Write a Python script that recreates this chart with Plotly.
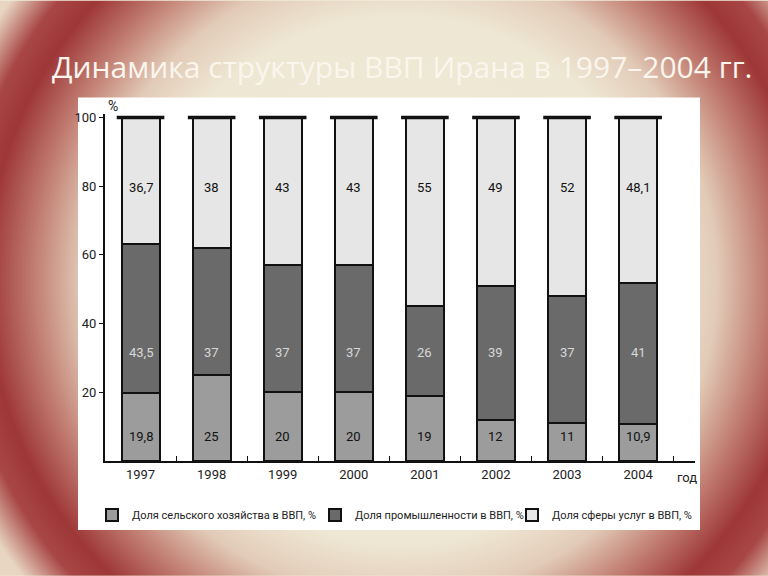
import base64
import plotly.graph_objects as go

years = ["1997", "1998", "1999", "2000", "2001", "2002", "2003", "2004"]
agriculture = [19.8, 25, 20, 20, 19, 12, 11, 10.9]
industry = [43.5, 37, 37, 37, 26, 39, 37, 41]
services = [36.7, 38, 43, 43, 55, 49, 52, 48.1]
y_ticks = [20, 40, 60, 80, 100]
series_names = [
    "Доля сельского хозяйства в ВВП, %",
    "Доля промышленности в ВВП, %",
    "Доля сферы услуг в ВВП, %",
]
title_text = "Динамика структуры ВВП Ирана в 1997–2004 гг."

NARROW = "Roboto, Liberation Sans, sans-serif"
colors = ["#9c9c9c", "#6a6a6a", "#e6e6e6"]

W, H = 768, 576
ML, MR, MT, MB = 105, 73, 113.6, 115
pw = W - ML - MR
ph = H - MT - MB


def fmt(v):
    s = ("%g" % v)
    return s.replace(".", ",")


def px_x(x):
    return (x - ML) / pw


def px_y(y):
    return (H - MB - y) / ph


svg = f'''<svg xmlns="http://www.w3.org/2000/svg" width="{W}" height="{H}" viewBox="0 0 {W} {H}">
<defs><radialGradient id="g" gradientUnits="userSpaceOnUse" cx="400" cy="280" r="480">
<stop offset="0" stop-color="#F0EBD9"/>
<stop offset="0.55" stop-color="#EEE7D3"/>
<stop offset="0.66" stop-color="#E2CBB8"/>
<stop offset="0.76" stop-color="#C27F73"/>
<stop offset="0.86" stop-color="#9E3737"/>
<stop offset="0.92" stop-color="#A84646"/>
<stop offset="1" stop-color="#E8D6C2"/>
</radialGradient></defs>
<rect width="{W}" height="{H}" fill="url(#g)"/></svg>'''
bg_uri = "data:image/svg+xml;base64," + base64.b64encode(svg.encode("utf-8")).decode()

legend_ids = ["legend", "legend2", "legend3"]
legend_px = [92, 315, 512]

fig = go.Figure()
for name, vals, col, lg in zip(series_names, [agriculture, industry, services], colors, legend_ids):
    fig.add_trace(go.Bar(
        x=years, y=vals, name=name, legend=lg,
        marker=dict(color=col, line=dict(color="#111111", width=2)),
        width=0.535, hoverinfo="skip",
    ))

totals = [a + b + c for a, b, c in zip(agriculture, industry, services)]
fig.add_trace(go.Scatter(
    x=years, y=totals, mode="markers", showlegend=False, hoverinfo="skip",
    marker=dict(symbol="line-ew-open", size=34, color="#111111",
                line=dict(color="#111111", width=3.5)),
    cliponaxis=False,
))

annotations = []
for i, yr in enumerate(years):
    annotations.append(dict(x=i, y=7, text=fmt(agriculture[i]), showarrow=False,
                            font=dict(family=NARROW, size=13, color="#111111")))
    annotations.append(dict(x=i, y=31.7, text=fmt(industry[i]), showarrow=False,
                            font=dict(family=NARROW, size=13, color="#d8d8d8")))
    annotations.append(dict(x=i, y=79.5, text=fmt(services[i]), showarrow=False,
                            font=dict(family=NARROW, size=13, color="#111111")))

annotations.append(dict(xref="paper", yref="paper", x=px_x(113), y=px_y(106), text="%",
                        xanchor="center", yanchor="middle",
                        showarrow=False, font=dict(family=NARROW, size=14, color="#222222")))
annotations.append(dict(xref="paper", yref="paper", x=px_x(687), y=px_y(478), text="год",
                        xanchor="center", yanchor="middle",
                        showarrow=False, font=dict(family=NARROW, size=13, color="#222222")))
annotations.append(dict(xref="paper", yref="paper", x=px_x(402), y=px_y(66), text=title_text,
                        xanchor="center", yanchor="middle",
                        showarrow=False, font=dict(family="Open Sans, sans-serif", size=30, color="#FAF6EE")))

legend_layout = {}
for lg, lx in zip(legend_ids, legend_px):
    legend_layout[lg] = dict(orientation="h", x=px_x(lx), xanchor="left", y=px_y(515), yanchor="middle",
                             font=dict(family=NARROW, size=11, color="#222222"),
                             bgcolor="rgba(0,0,0,0)", itemsizing="constant")

fig.update_layout(
    width=W, height=H,
    margin=dict(l=ML, r=MR, t=MT, b=MB, pad=0),
    barmode="stack",
    paper_bgcolor="#F0EBD9",
    plot_bgcolor="rgba(0,0,0,0)",
    showlegend=True,
    annotations=annotations,
    images=[dict(source=bg_uri, xref="paper", yref="paper",
                 x=px_x(0), y=px_y(0), sizex=W / pw, sizey=H / ph,
                 xanchor="left", yanchor="top", sizing="stretch", layer="below")],
    shapes=[dict(type="rect", xref="paper", yref="paper", layer="below",
                 x0=px_x(78), x1=px_x(700), y0=px_y(530), y1=px_y(97),
                 fillcolor="white", line=dict(width=0))],
    xaxis=dict(type="category", range=[-0.5, 7.8], showline=True, linecolor="#111111",
               linewidth=2, ticks="inside", tickson="boundaries", ticklen=5,
               tickcolor="#111111", tickwidth=1, showgrid=False, zeroline=False,
               tickfont=dict(family=NARROW, size=13, color="#222222")),
    yaxis=dict(range=[0, 101], tickvals=y_ticks, showline=True, linecolor="#111111",
               linewidth=2, ticks="outside", ticklen=4, tickcolor="#111111",
               showgrid=False, zeroline=False,
               tickfont=dict(family=NARROW, size=13, color="#222222")),
    **legend_layout,
)

fig.write_html("out.html")
